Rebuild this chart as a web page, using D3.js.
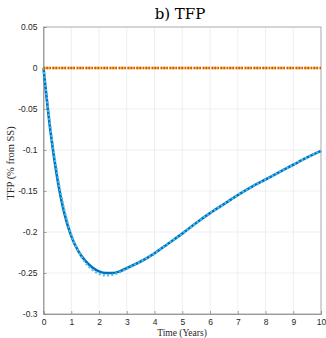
<!DOCTYPE html>
<html>
<head>
<meta charset="utf-8">
<script src="https://cdn.jsdelivr.net/npm/d3@7"></script>
<style>
  body { margin: 0; background: #fff; }
  svg { display: block; }
</style>
</head>
<body>
<figure id="chart" style="margin:0"></figure>
<script>
// quarterly time grid (years)
const years = [0, 0.25, 0.5, 0.75, 1, 1.25, 1.5, 1.75, 2, 2.25, 2.5, 2.75, 3, 3.5, 4, 4.5, 5, 5.5, 6, 6.5, 7, 7.5, 8, 8.5, 9, 9.5, 10];
// solid dark blue response
const tfpModel = [0, -0.077, -0.135, -0.177, -0.205, -0.223, -0.235, -0.243, -0.248, -0.250, -0.250, -0.248, -0.244, -0.236, -0.226, -0.214, -0.202, -0.189, -0.177, -0.166, -0.155, -0.145, -0.136, -0.127, -0.118, -0.109, -0.101];
// light blue dotted response
const tfpApprox = [0, -0.073, -0.13, -0.173, -0.203, -0.223, -0.237, -0.246, -0.251, -0.253, -0.252, -0.249, -0.245, -0.236, -0.226, -0.214, -0.202, -0.189, -0.177, -0.166, -0.155, -0.145, -0.136, -0.127, -0.118, -0.109, -0.101];
// flat zero response
const flatLine = [0, 0];
const flatYears = [0, 10];

const xTicks = [0, 1, 2, 3, 4, 5, 6, 7, 8, 9, 10];
const yTicks = [0.05, 0, -0.05, -0.1, -0.15, -0.2, -0.25, -0.3];

const W = 326, H = 338;
const mLeft = 43.5, mRight = 321, mTop = 27, mBottom = 314;

const svg = d3.select("#chart").append("svg")
  .attr("width", W).attr("height", H);

const x = d3.scaleLinear().domain([0, 10]).range([mLeft, mRight]);
const y = d3.scaleLinear().domain([-0.3, 0.05]).range([mBottom, mTop]);

// grid
svg.append("g").selectAll("line").data(xTicks).enter().append("line")
  .attr("x1", d => x(d)).attr("x2", d => x(d))
  .attr("y1", mTop).attr("y2", mBottom)
  .attr("stroke", "#ebebeb").attr("stroke-width", 0.8);
svg.append("g").selectAll("line").data(yTicks).enter().append("line")
  .attr("x1", mLeft).attr("x2", mRight)
  .attr("y1", d => y(d)).attr("y2", d => y(d))
  .attr("stroke", "#ebebeb").attr("stroke-width", 0.8);

// box
svg.append("rect")
  .attr("x", mLeft).attr("y", mTop)
  .attr("width", mRight - mLeft).attr("height", mBottom - mTop)
  .attr("fill", "none").attr("stroke", "#a0a0a0").attr("stroke-width", 0.8);

// axes
const xAxis = svg.append("g")
  .attr("transform", "translate(0," + mBottom + ")")
  .call(d3.axisBottom(x).tickValues(xTicks).tickSize(-3).tickPadding(5).tickFormat(d3.format("d")));
const yAxis = svg.append("g")
  .attr("transform", "translate(" + mLeft + ",0)")
  .call(d3.axisLeft(y).tickValues(yTicks).tickSize(-3).tickPadding(6).tickFormat(d => d === 0 ? "0" : String(+d.toFixed(2))));
[xAxis, yAxis].forEach(g => {
  g.select(".domain").attr("stroke", "#8a8a8a").attr("stroke-width", 0.8);
  g.selectAll(".tick line").attr("stroke", "#8a8a8a").attr("stroke-width", 0.8);
  g.selectAll("text").attr("fill", "#262626")
    .style("font-family", "Liberation Sans, Arial, sans-serif").style("font-size", "8.5px");
});

// lines
const line = d3.line().curve(d3.curveMonotoneX).x(d => x(d[0])).y(d => y(d[1]));

svg.append("path")
  .datum(years.map((t, i) => [t, tfpModel[i]]))
  .attr("d", line).attr("fill", "none")
  .attr("stroke", "#0072BD").attr("stroke-width", 2.6);
svg.append("path")
  .datum(years.map((t, i) => [t, tfpApprox[i]]))
  .attr("d", line).attr("fill", "none")
  .attr("stroke", "#4DBEEE").attr("stroke-width", 2.2)
  .attr("stroke-dasharray", "2,2.2");

svg.append("path")
  .datum(flatYears.map((t, i) => [t, flatLine[i]]))
  .attr("d", line).attr("fill", "none")
  .attr("stroke", "#EDB120").attr("stroke-width", 2.4)
  .attr("stroke-dasharray", "6,2.4");
svg.append("path")
  .datum(flatYears.map((t, i) => [t, flatLine[i]]))
  .attr("d", line).attr("fill", "none")
  .attr("stroke", "#D95319").attr("stroke-width", 2.4)
  .attr("stroke-dasharray", "1.5,1.5");

// labels
svg.append("text")
  .attr("x", 180).attr("y", 19)
  .attr("text-anchor", "middle")
  .style("font-family", "DejaVu Serif, Liberation Serif, serif").style("font-size", "15px")
  .attr("fill", "#000").text("b) TFP");

svg.append("text")
  .attr("x", 182).attr("y", 335.5)
  .attr("text-anchor", "middle")
  .style("font-family", "Liberation Serif, serif").style("font-size", "9.5px")
  .attr("fill", "#262626").text("Time (Years)");

svg.append("text")
  .attr("transform", "translate(14,163) rotate(-90)")
  .attr("text-anchor", "middle")
  .style("font-family", "Liberation Serif, serif").style("font-size", "10.5px")
  .attr("fill", "#262626").text("TFP (% from SS)");
</script>
</body>
</html>
